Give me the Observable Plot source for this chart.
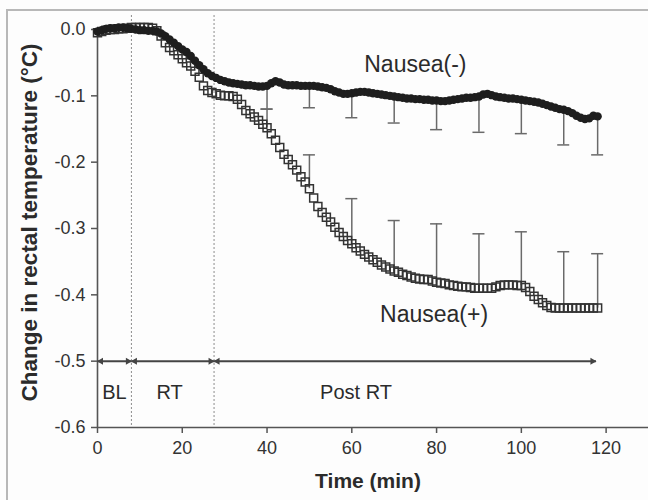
<!DOCTYPE html>
<html><head><meta charset="utf-8">
<script src="https://cdn.jsdelivr.net/npm/d3@7"></script>
<script src="https://cdn.jsdelivr.net/npm/@observablehq/plot@0.6"></script>
<style>
body{margin:0;background:#fff;}
#wrap{position:relative;width:648px;height:500px;overflow:hidden;background:#fdfdfd;}
#border{position:absolute;left:6px;top:9px;width:700px;height:600px;border-left:2px solid #b8b8b8;border-top:2px solid #b8b8b8;}
#wrap svg{position:absolute;left:0;top:0;}
</style></head>
<body><div id="wrap"><div id="border"></div></div>
<script>
// sampling: one reading per minute starting at minute 0
const startMinute = 0;
const stepMinutes = 1;

// Nausea(-) mean change (°C), minutes 0..118
const nauseaNeg = [
-0.003,-0.001,0.001,0.002,0.002,0.003,0.003,0.002,0.001,0.000,
-0.001,-0.001,-0.002,-0.002,-0.003,-0.006,-0.010,-0.015,-0.020,-0.025,
-0.030,-0.034,-0.040,-0.047,-0.054,-0.060,-0.066,-0.070,-0.073,-0.076,
-0.078,-0.080,-0.081,-0.082,-0.083,-0.084,-0.084,-0.085,-0.086,-0.086,
-0.085,-0.081,-0.078,-0.080,-0.083,-0.084,-0.084,-0.084,-0.085,-0.085,
-0.085,-0.085,-0.086,-0.087,-0.088,-0.090,-0.093,-0.095,-0.097,-0.097,
-0.096,-0.095,-0.094,-0.094,-0.095,-0.096,-0.097,-0.098,-0.099,-0.100,
-0.101,-0.102,-0.103,-0.104,-0.104,-0.105,-0.105,-0.106,-0.106,-0.107,
-0.107,-0.108,-0.108,-0.107,-0.106,-0.105,-0.104,-0.103,-0.103,-0.102,
-0.101,-0.098,-0.097,-0.099,-0.101,-0.102,-0.103,-0.104,-0.104,-0.105,
-0.106,-0.107,-0.108,-0.109,-0.110,-0.112,-0.114,-0.116,-0.118,-0.120,
-0.121,-0.123,-0.126,-0.130,-0.133,-0.135,-0.134,-0.130,-0.131
];

// Nausea(+) mean change (°C), minutes 0..118
const nauseaPos = [
-0.005,-0.003,-0.001,0.000,0.000,0.001,0.001,0.002,0.003,0.003,
0.003,0.003,0.003,0.002,-0.002,-0.010,-0.020,-0.027,-0.032,-0.038,
-0.044,-0.050,-0.055,-0.063,-0.072,-0.085,-0.092,-0.095,-0.097,-0.099,
-0.100,-0.100,-0.101,-0.105,-0.113,-0.122,-0.127,-0.132,-0.137,-0.143,
-0.148,-0.157,-0.167,-0.178,-0.188,-0.196,-0.204,-0.212,-0.222,-0.230,
-0.240,-0.254,-0.267,-0.276,-0.283,-0.290,-0.298,-0.306,-0.312,-0.318,
-0.323,-0.329,-0.334,-0.339,-0.343,-0.347,-0.351,-0.355,-0.358,-0.361,
-0.364,-0.366,-0.369,-0.371,-0.373,-0.375,-0.376,-0.377,-0.377,-0.379,
-0.381,-0.382,-0.383,-0.385,-0.386,-0.387,-0.388,-0.388,-0.389,-0.390,
-0.390,-0.390,-0.390,-0.390,-0.388,-0.386,-0.385,-0.385,-0.385,-0.386,
-0.386,-0.389,-0.395,-0.402,-0.407,-0.412,-0.416,-0.419,-0.420,-0.420,
-0.420,-0.420,-0.420,-0.420,-0.420,-0.420,-0.420,-0.420,-0.420
];

// error bars (one-sided)
const errMinutes = [40, 50, 60, 70, 80, 90, 100, 110, 118];
const nauseaNegLower = [-0.120, -0.118, -0.133, -0.141, -0.151, -0.155, -0.157, -0.174, -0.189];
const nauseaPosUpper = [-0.120, -0.189, -0.255, -0.288, -0.293, -0.308, -0.305, -0.335, -0.338];

// study phases
const phaseNames = ["BL", "RT", "Post RT"];
const phaseStart = [0, 8, 27.5];
const phaseEnd = [8, 27.5, 117.6];
const phaseLabelX = [4, 17, 61];
const phaseArrowLevel = -0.5;
const phaseLabelLevel = -0.547;
const phaseBoundaries = [8, 27.5];

// series labels
const seriesNames = ["Nausea(-)", "Nausea(+)"];
const seriesLabelX = [75, 79.4];
const seriesLabelY = [-0.053, -0.43];

// axes
const xTicks = [0, 20, 40, 60, 80, 100, 120];
const yTicks = [0, -0.1, -0.2, -0.3, -0.4, -0.5, -0.6];
const xTitle = "Time (min)";
const yTitle = "Change in rectal temperature (°C)";

const negPts = nauseaNeg.map((v, i) => ({t: startMinute + i * stepMinutes, v}));
const posPts = nauseaPos.map((v, i) => ({t: startMinute + i * stepMinutes, v}));
const idx = t => Math.round((t - startMinute) / stepMinutes);
const negErr = errMinutes.map((t, i) => ({t, mean: nauseaNeg[idx(t)], bound: nauseaNegLower[i]}));
const posErr = errMinutes.map((t, i) => ({t, mean: nauseaPos[idx(t)], bound: nauseaPosUpper[i]}));
const phases = phaseNames.map((name, i) => ({name, start: phaseStart[i], end: phaseEnd[i], lx: phaseLabelX[i]}));
const seriesLabels = seriesNames.map((name, i) => ({name, x: seriesLabelX[i], y: seriesLabelY[i]}));

const ink = "#2b2b2b";
const axisInk = "#555";
const errInk = "#6a6a6a";

const chart = Plot.plot({
  width: 648, height: 500,
  marginLeft: 97, marginTop: 29, marginBottom: 73, marginRight: 0,
  x: {domain: [0, 130], label: null},
  y: {domain: [-0.6, 0], label: null},
  style: {fontFamily: "'Liberation Sans', Arial, sans-serif", background: "transparent", color: ink, overflow: "visible"},
  marks: [
    Plot.ruleX(phaseBoundaries, {stroke: "#8c8c8c", strokeWidth: 1, strokeDasharray: "2,2", insetTop: -14}),
    Plot.ruleY([-0.6], {stroke: axisInk, strokeWidth: 1.6}),
    Plot.ruleX([0], {stroke: axisInk, strokeWidth: 1.6}),
    Plot.axisX(xTicks, {tickSize: 6, tickPadding: 8, fontSize: 18, stroke: axisInk, fill: "#333", label: null, strokeWidth: 1.5}),
    Plot.axisY(yTicks, {tickSize: 6, tickPadding: 6, fontSize: 18, stroke: axisInk, fill: "#333", label: null, strokeWidth: 1.5, tickFormat: d => d.toFixed(1)}),
    // error bars
    Plot.ruleX(negErr, {x: "t", y1: "mean", y2: "bound", stroke: errInk, strokeWidth: 1.5}),
    Plot.ruleY(negErr, {y: "bound", x1: "t", x2: "t", insetLeft: -6, insetRight: -6, stroke: errInk, strokeWidth: 1.5}),
    Plot.ruleX(posErr, {x: "t", y1: "mean", y2: "bound", stroke: errInk, strokeWidth: 1.5}),
    Plot.ruleY(posErr, {y: "bound", x1: "t", x2: "t", insetLeft: -6, insetRight: -6, stroke: errInk, strokeWidth: 1.5}),
    // data
    Plot.dot(posPts, {x: "t", y: "v", symbol: "square", r: 4.5, fill: "none", stroke: "#333", strokeWidth: 1.5}),
    Plot.dot(negPts, {x: "t", y: "v", r: 4.2, fill: "#1e1e1e", stroke: "none"}),
    // phase arrows
    Plot.link(phases, {x1: "start", x2: "end", y1: () => phaseArrowLevel, y2: () => phaseArrowLevel, stroke: "#444", strokeWidth: 2}),
    Plot.dot(phases, {x: "end", y: () => phaseArrowLevel, symbol: "triangle", rotate: 90, r: 2.6, fill: "#444", dx: -3.5}),
    Plot.dot(phases, {x: "start", y: () => phaseArrowLevel, symbol: "triangle", rotate: -90, r: 2.6, fill: "#444", dx: 3.5}),
    Plot.text(phases, {x: "lx", y: () => phaseLabelLevel, text: "name", fontSize: 20, fill: ink, lineAnchor: "middle"}),
    // series labels
    Plot.text(seriesLabels, {x: "x", y: "y", text: "name", fontSize: 23, fill: ink, lineAnchor: "middle"}),
    // axis titles
    Plot.text([xTitle], {frameAnchor: "bottom", text: d => d, fontSize: 21, fontWeight: "bold", fill: ink, lineAnchor: "middle", dy: 54, dx: -5}),
    Plot.text([yTitle], {frameAnchor: "left", text: d => d, fontSize: 22.5, fontWeight: "bold", fill: ink, textAnchor: "middle", lineAnchor: "middle", rotate: -90, dx: -68, dy: -6})
  ]
});
document.getElementById("wrap").appendChild(chart);
</script>
</body></html>
